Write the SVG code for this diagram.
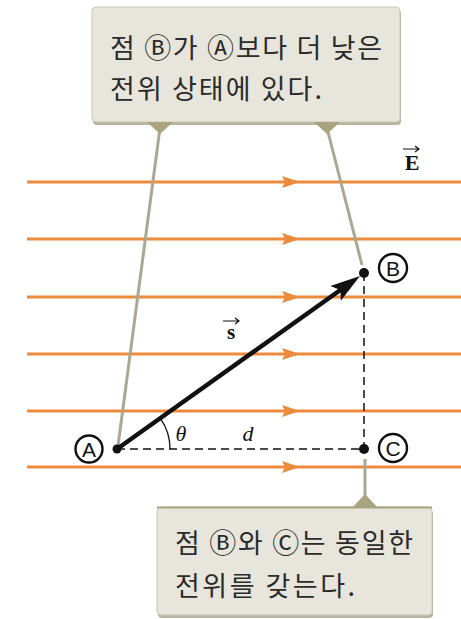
<svg xmlns="http://www.w3.org/2000/svg" width="461" height="619" viewBox="0 0 461 619">
<defs>
<style>
.field{stroke:#ee8a3c;stroke-width:3;fill:none}
.fhead{fill:#ee8a3c}
.leader{stroke:#aaa892;stroke-width:3;fill:none}
.tail{fill:#a9a37f}
.box{fill:#e8e6dc;stroke:#c9c6b3;stroke-width:1}
.shadow{fill:#b8b49d}
.ko{font-family:"Noto Sans CJK KR","Noto Sans",sans-serif;font-size:27px;fill:#2b2b2b}
.dash{stroke:#111;stroke-width:1.5;stroke-dasharray:8 5;fill:none}
.dot{fill:#111}
.ring{fill:#fff;stroke:#111;stroke-width:2.4}
.circ{font-family:"Liberation Sans",Arial,sans-serif;font-size:21px;fill:#111;text-anchor:middle}
.serif{font-family:"Liberation Serif","Times New Roman",serif;fill:#111}
</style>
</defs>
<rect width="461" height="619" fill="#fff"/>

<g id="field-lines">
<line class="field" x1="27" y1="182" x2="461" y2="182"/>
<path class="fhead" d="M282,176 L300,182 L282,188 L285,182 z"/>
<line class="field" x1="27" y1="239" x2="461" y2="239"/>
<path class="fhead" d="M282,233 L300,239 L282,245 L285,239 z"/>
<line class="field" x1="27" y1="297" x2="461" y2="297"/>
<path class="fhead" d="M282,291 L300,297 L282,303 L285,297 z"/>
<line class="field" x1="27" y1="354" x2="461" y2="354"/>
<path class="fhead" d="M282,348 L300,354 L282,360 L285,354 z"/>
<line class="field" x1="27" y1="411" x2="461" y2="411"/>
<path class="fhead" d="M282,405 L300,411 L282,417 L285,411 z"/>
<line class="field" x1="27" y1="467" x2="461" y2="467"/>
<path class="fhead" d="M282,461 L300,467 L282,473 L285,467 z"/>
</g>

<g id="label-E">
<text class="serif" x="412" y="170" font-size="22" font-weight="bold" text-anchor="middle">E</text>
<path d="M403,149 L419,149 M415,146 L419,149 L415,152" stroke="#111" stroke-width="1.2" fill="none"/>
</g>

<g id="connectors">
<line class="leader" x1="160" y1="128" x2="118" y2="446"/>
<line class="leader" x1="327" y1="128" x2="362" y2="265"/>
<line class="leader" x1="365" y1="459" x2="365" y2="500"/>
<line class="dash" x1="117" y1="449" x2="364" y2="449"/>
<line class="dash" x1="364" y1="273" x2="364" y2="449"/>
<path d="M170,449 A53,53 0 0 0 160.2,418.2" stroke="#111" stroke-width="1.3" fill="none"/>
<line x1="117" y1="449" x2="346" y2="286" stroke="#111" stroke-width="4.5"/>
<path d="M0,0 L-30,-9 L-24,0 L-30,9 z" fill="#111" transform="translate(360,276) rotate(-35.5)"/>
</g>

<g id="label-s">
<text class="serif" x="231" y="339" font-size="21" font-weight="bold" text-anchor="middle">s</text>
<path d="M223,321 L239,321 M235,318 L239,321 L235,324" stroke="#111" stroke-width="1.2" fill="none"/>
</g>
<text class="serif" x="181" y="441" font-size="22" font-style="italic" text-anchor="middle">θ</text>
<text class="serif" x="248" y="441" font-size="22" font-style="italic" text-anchor="middle">d</text>

<g id="node-A">
<circle class="dot" cx="117" cy="449" r="4.5"/>
<circle class="ring" cx="89" cy="449" r="13.5"/>
<text class="circ" x="89" y="456.5">A</text>
</g>
<g id="node-B">
<circle class="dot" cx="364" cy="273" r="5"/>
<circle class="ring" cx="393" cy="268" r="14"/>
<text class="circ" x="393" y="275.5">B</text>
</g>
<g id="node-C">
<circle class="dot" cx="364" cy="449" r="5"/>
<circle class="ring" cx="393" cy="448" r="14"/>
<text class="circ" x="393" y="455.5">C</text>
</g>

<g id="callout-top">
<rect class="shadow" x="93" y="10" width="308" height="115" rx="4"/>
<rect class="box" x="92" y="7" width="308" height="115" rx="4"/>
<path class="tail" d="M147,122 L173,122 L160,134 z"/>
<path class="tail" d="M314,122 L340,122 L327,134 z"/>
<text class="ko" x="110" y="58" textLength="272" lengthAdjust="spacing">점 Ⓑ가 Ⓐ보다 더 낮은</text>
<text class="ko" x="110" y="99" textLength="212" lengthAdjust="spacing">전위 상태에 있다.</text>
</g>

<g id="callout-bottom">
<rect class="shadow" x="158" y="510" width="275" height="108" rx="4"/>
<rect class="box" x="157" y="507" width="275" height="108" rx="4"/>
<line x1="157" y1="507.5" x2="432" y2="507.5" stroke="#a9a37f" stroke-width="2"/>
<path class="tail" d="M352,508 L378,508 L365,494 z"/>
<text class="ko" x="175" y="553" textLength="238" lengthAdjust="spacing">점 Ⓑ와 Ⓒ는 동일한</text>
<text class="ko" x="175" y="596" textLength="180" lengthAdjust="spacing">전위를 갖는다.</text>
</g>
</svg>
